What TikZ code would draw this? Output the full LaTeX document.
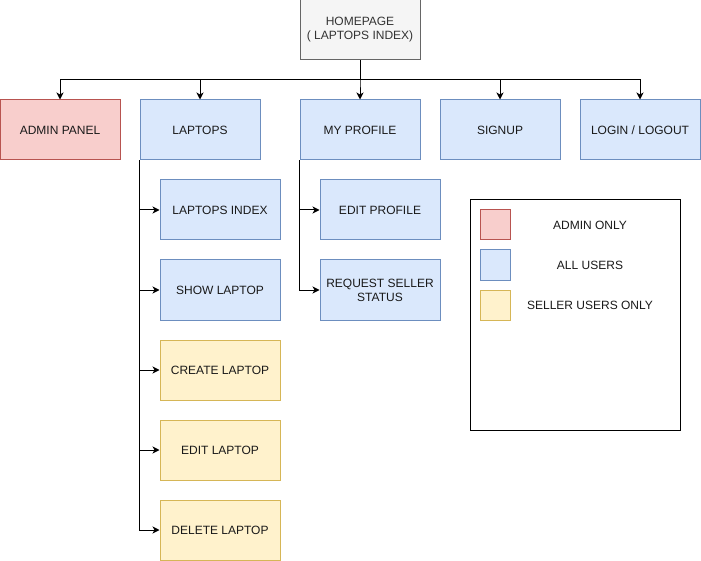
\documentclass[tikz,border=0pt]{standalone}
\usepackage{fontspec}
\setmainfont{Liberation Sans}
\usepackage{tikz}
\usetikzlibrary{arrows.meta}

\definecolor{homefill}{HTML}{F5F5F5}
\definecolor{homeline}{HTML}{666666}
\definecolor{hometext}{HTML}{333333}
\definecolor{redfill}{HTML}{F8CECC}
\definecolor{redline}{HTML}{B85450}
\definecolor{bluefill}{HTML}{DAE8FC}
\definecolor{blueline}{HTML}{6C8EBF}
\definecolor{yellowfill}{HTML}{FFF2CC}
\definecolor{yellowline}{HTML}{D6B656}

\begin{document}
\begin{tikzpicture}[x=1pt,y=-1pt,
  page/.style={draw, line width=1pt, minimum width=120pt, minimum height=60pt,
    inner sep=2pt, align=center, text=black!90, font=\fontsize{12}{14}\selectfont},
  homepage/.style={page, fill=homefill, draw=homeline, text=hometext},
  adminpage/.style={page, fill=redfill, draw=redline},
  userpage/.style={page, fill=bluefill, draw=blueline},
  sellerpage/.style={page, fill=yellowfill, draw=yellowline},
  swatch/.style={draw, line width=1pt, minimum size=30pt, inner sep=0pt},
  legendtext/.style={font=\fontsize{12}{14}\selectfont, text=black!90},
  link/.style={line width=1pt, -{Stealth[length=7pt,width=7pt,inset=2pt]}}]
\useasboundingbox (0,0) rectangle (701,561);

% Homepage
\node[homepage] (home) at (360,30) {HOMEPAGE\\( LAPTOPS INDEX)};

% Top level pages
\node[adminpage] (admin) at (60,130) {ADMIN PANEL};
\node[userpage] (laptops) at (200,130) {LAPTOPS};
\node[userpage] (profile) at (360,130) {MY PROFILE};
\node[userpage] (signup) at (500,130) {SIGNUP};
\node[userpage] (login) at (640,130) {LOGIN / LOGOUT};

% Laptop pages
\node[userpage] (lindex) at (220,210) {LAPTOPS INDEX};
\node[userpage] (lshow) at (220,290) {SHOW LAPTOP};
\node[sellerpage] (lcreate) at (220,370) {CREATE LAPTOP};
\node[sellerpage] (ledit) at (220,450) {EDIT LAPTOP};
\node[sellerpage] (ldelete) at (220,530) {DELETE LAPTOP};

% Profile pages
\node[userpage] (pedit) at (380,210) {EDIT PROFILE};
\node[userpage] (prequest) at (380,290) {REQUEST SELLER\\STATUS};

% Links
\coordinate (bus) at (360,80);
\foreach \p in {admin,laptops,profile,signup,login}
  \draw[link] (home.south) -- (bus) -| (\p.north);
\foreach \p in {lindex,lshow,lcreate,ledit,ldelete}
  \draw[link] (laptops.south west) |- (\p.west);
\foreach \p in {pedit,prequest}
  \draw[link] (profile.south west) |- (\p.west);

% Legend
\node[draw, line width=1pt, minimum width=210pt, minimum height=230pt] (legend) at (575,315) {};
\node[swatch, fill=redfill, draw=redline] (keyadmin) at (495,225) {};
\node[swatch, fill=bluefill, draw=blueline] (keyuser) at (495,265) {};
\node[swatch, fill=yellowfill, draw=yellowline] (keyseller) at (495,305) {};
\node[legendtext] (txtadmin) at (590,225) {ADMIN ONLY};
\node[legendtext] (txtuser) at (590,265) {ALL USERS};
\node[legendtext] (txtseller) at (590,305) {SELLER USERS ONLY};
\end{tikzpicture}
\end{document}
